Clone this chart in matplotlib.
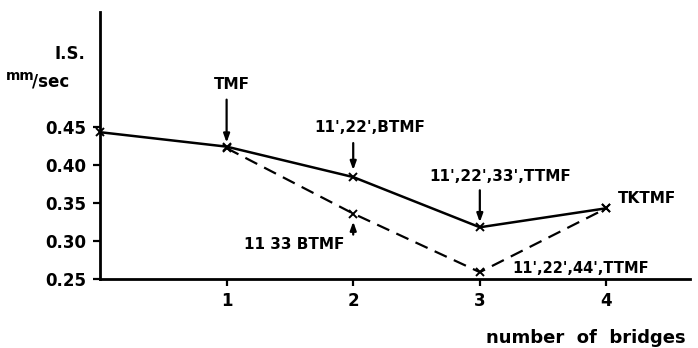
import matplotlib
matplotlib.use("Agg")
import matplotlib.pyplot as plt

# data
bridges_solid = [0, 1, 2, 3, 4]
speed_solid = [0.443, 0.424, 0.384, 0.318, 0.343]
bridges_dashed = [1, 2, 3, 4]
speed_dashed = [0.422, 0.336, 0.259, 0.343]
x_ticks = [1, 2, 3, 4]
y_ticks = [0.25, 0.30, 0.35, 0.40, 0.45]
y_ticklabels = ["0.25", "0.30", "0.35", "0.40", "0.45"]

plt.rcParams['font.family'] = ['DejaVu Sans']
plt.rcParams['font.weight'] = 'bold'

W, H = 698, 348
fig = plt.figure(figsize=(W / 100, H / 100), dpi=100)
ax = fig.add_axes([100 / W, 69 / H, 590 / W, 267 / H])

ax.plot(bridges_solid, speed_solid, color='black', lw=1.8, marker='x', ms=6, mew=1.4,
        clip_on=False, zorder=3)
ax.plot(bridges_dashed, speed_dashed, color='black', lw=1.6, ls=(0, (6, 3.5)), marker='x',
        ms=6, mew=1.4, clip_on=False, zorder=3)

ax.set_xlim(0, 4.66)
ax.set_ylim(0.25, 0.601)
ax.set_xticks(x_ticks)
ax.set_xticklabels([str(v) for v in x_ticks])
ax.set_yticks(y_ticks)
ax.set_yticklabels(y_ticklabels)
for s in ['top', 'right']:
    ax.spines[s].set_visible(False)
for s in ['left', 'bottom']:
    ax.spines[s].set_linewidth(2.0)
ax.tick_params(axis='both', direction='out', length=5, width=1.6, labelsize=12, pad=5)
ax.tick_params(axis='x', pad=4)
for lab in ax.get_xticklabels() + ax.get_yticklabels():
    lab.set_fontweight('bold')


def label(txt, xy, dx, dy, ha='center', size=11):
    ax.annotate(txt, xy=xy, xytext=(dx, dy), textcoords='offset pixels',
                ha=ha, va='center', fontsize=size, fontweight='bold', annotation_clip=False)


def arrow(xy, tail, tip):
    ax.annotate('', xy=xy, xytext=(0, tail), textcoords='offset pixels',
                arrowprops=dict(arrowstyle='-|>,head_length=0.5,head_width=0.18', color='black',
                                lw=1.6, shrinkA=0, shrinkB=abs(tip) * 0.72),
                annotation_clip=False)


p1 = (bridges_solid[1], speed_solid[1])
p2 = (bridges_solid[2], speed_solid[2])
p3 = (bridges_solid[3], speed_solid[3])
p4 = (bridges_solid[4], speed_solid[4])
d2 = (bridges_dashed[1], speed_dashed[1])
d3 = (bridges_dashed[2], speed_dashed[2])

label("TMF", p1, 5, 62)
arrow(p1, 47, 4)
label("11',22',BTMF", p2, 17, 50)
arrow(p2, 34, 7)
label("11',22',33',TTMF", p3, 20, 51)
arrow(p3, 37, 5)
label("TKTMF", p4, 11, 10, ha='left')
label("11 33 BTMF", d2, -59, -31)
arrow(d2, -21, -8)
label("11',22',44',TTMF", d3, 32, 4, ha='left', size=10.5)

fig.text(70 / W, 1 - 54 / H, "I.S.", ha='center', va='center', fontsize=12, fontweight='bold')
fig.text(20 / W, 1 - 76 / H, "mm", ha='center', va='center', fontsize=10, fontweight='bold')
fig.text(32 / W, 1 - 82 / H, "/sec", ha='left', va='center', fontsize=12, fontweight='bold')
fig.text(486 / W, 1 - 343 / H, "number  of  bridges", ha='left', va='baseline', fontsize=13,
         fontweight='bold')

fig.savefig("out.png", dpi=100)
